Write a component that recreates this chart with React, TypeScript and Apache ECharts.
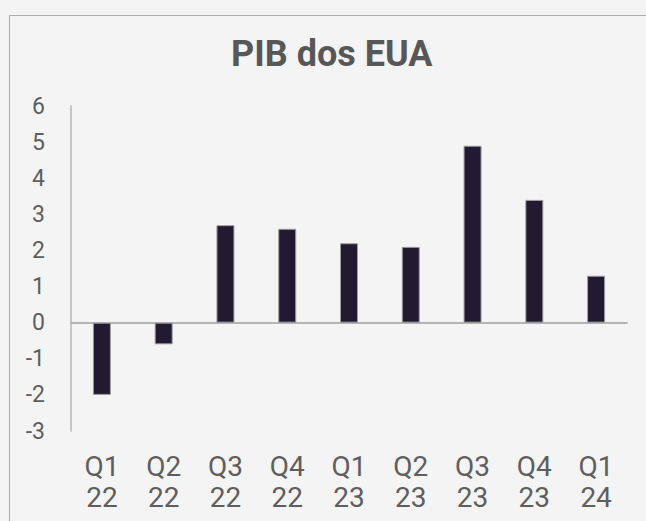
import React, { useEffect, useRef } from "react";
import * as echarts from "echarts";

const categories: string[] = [
  "Q1\n22", "Q2\n22", "Q3\n22", "Q4\n22", "Q1\n23", "Q2\n23", "Q3\n23", "Q4\n23", "Q1\n24",
];
const gdpGrowth: number[] = [-2.0, -0.6, 2.7, 2.6, 2.2, 2.1, 4.9, 3.4, 1.3];
const yMin = -3;
const yMax = 6;
const yStep = 1;
const titleText = "PIB dos EUA";

export default function App() {
  const ref = useRef<HTMLDivElement>(null);

  useEffect(() => {
    if (!ref.current) return;
    const chart = echarts.init(ref.current, undefined, { renderer: "svg" });
    chart.setOption({
      animation: false,
      backgroundColor: "#f4f4f4",
      textStyle: { fontFamily: "Roboto" },
      title: {
        text: titleText,
        left: 231,
        top: 36,
        padding: 0,
        textStyle: {
          fontFamily: "Roboto",
          fontSize: 36,
          fontWeight: "bold",
          color: "#575757",
          lineHeight: 36,
        },
      },
      graphic: [
        {
          type: "rect",
          shape: { x: 9.5, y: 15.5, width: 700, height: 600 },
          style: { fill: "none", stroke: "#adadad", lineWidth: 1 },
          silent: true,
          z: 0,
        },
      ],
      grid: { left: 71, right: 19, top: 106, bottom: 90 },
      xAxis: [
        {
          type: "category",
          data: categories,
          axisLine: { onZero: true, lineStyle: { color: "#b4b4b4", width: 2 } },
          axisTick: { show: false },
          axisLabel: { show: false },
        },
        {
          type: "category",
          data: categories,
          position: "bottom",
          axisLine: { show: false, onZero: false },
          axisTick: { show: false },
          axisLabel: {
            show: true,
            interval: 0,
            margin: 19.5,
            fontFamily: "Roboto",
            fontSize: 28,
            lineHeight: 31,
            color: "#5e5e5e",
          },
        },
      ],
      yAxis: {
        type: "value",
        min: yMin,
        max: yMax,
        interval: yStep,
        axisLine: { show: true, lineStyle: { color: "#c6c6c6", width: 2 } },
        axisTick: { show: false },
        splitLine: { show: false },
        axisLabel: {
          margin: 26,
          fontFamily: "Roboto",
          fontSize: 23,
          color: "#5e5e5e",
        },
      },
      series: [
        {
          type: "bar",
          xAxisIndex: 0,
          data: gdpGrowth,
          barWidth: 18,
          itemStyle: {
            color: "#221a30",
            borderColor: "#9e9e9e",
            borderWidth: 1,
          },
        },
      ],
    });
    return () => chart.dispose();
  }, []);

  return (
    <div
      ref={ref}
      style={{
        position: "fixed",
        left: 0,
        top: 0,
        width: 646,
        height: 521,
        background: "#f4f4f4",
      }}
    />
  );
}
